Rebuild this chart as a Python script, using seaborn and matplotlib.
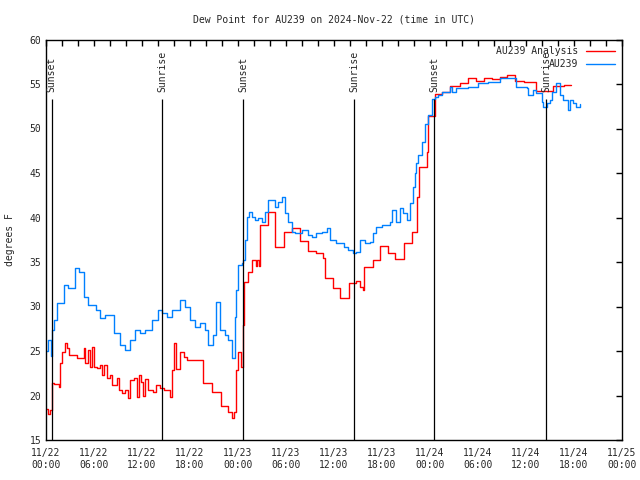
import numpy as np
import pandas as pd
import matplotlib
matplotlib.use("Agg")
import matplotlib.pyplot as plt
import matplotlib.dates as mdates
import seaborn as sns

# DATA (hours after 2024-11-22 00:00 UTC, dew point in F)
start = pd.Timestamp("2024-11-22 00:00")

ana_hours = [0.0, 0.25, 0.5, 0.75, 0.96, 1.6, 1.8, 2.0, 2.4, 2.6, 2.85, 3.9, 4.7, 4.9,
             5.3, 5.5, 5.75, 5.95, 6.4, 6.8, 7.0, 7.2, 7.6, 8.0, 8.25, 8.9, 9.1, 9.5,
             9.9, 10.3, 10.5, 10.95, 11.4, 11.6, 11.9, 12.1, 12.4, 12.8, 13.4, 13.8,
             14.25, 14.7, 15.1, 15.5, 15.7, 16.0, 16.3, 16.75, 17.2, 17.6, 19.6, 20.75,
             21.9, 22.8, 23.2, 23.5, 23.8, 24.0, 24.4, 24.65, 24.8, 25.3, 25.7, 26.25,
             26.4, 26.6, 26.8, 27.8, 28.6, 29.75, 30.7, 31.75, 32.8, 33.8, 34.6, 34.9,
             35.9, 36.75, 37.9, 38.75, 39.25, 39.6, 39.7, 40.9, 41.75, 42.8, 43.6,
             44.75, 45.8, 46.4, 46.6, 47.6, 47.8, 48.6, 49.5, 50.5, 51.7, 52.8, 53.75,
             54.7, 55.7, 56.75, 57.6, 58.6, 59.7, 61.3, 63.4, 64.7, 65.6]
ana_dewpt = [18.5, 17.9, 18.4, 21.4, 21.3, 20.9, 23.7, 24.9, 25.9, 25.3, 24.6, 24.2, 25.3, 23.7,
             25.1, 23.2, 25.4, 23.2, 23.1, 23.4, 22.3, 23.4, 22.0, 22.3, 21.2, 22.0, 20.6, 20.3,
             20.6, 19.7, 21.7, 22.0, 19.8, 22.3, 21.5, 20.0, 21.8, 20.6, 20.4, 21.2,
             20.8, 20.6, 20.6, 19.8, 22.9, 25.9, 23.0, 24.9, 24.3, 24.0, 21.4, 20.4,
             18.8, 18.1, 17.5, 18.1, 22.9, 24.9, 23.2, 27.9, 32.8, 33.9, 35.2, 34.6,
             35.2, 34.6, 39.2, 40.6, 36.7, 38.4, 38.8, 37.4, 36.2, 36.0, 35.4, 33.2,
             32.1, 31.0, 32.6, 32.9, 32.2, 31.9, 34.4, 35.2, 36.8, 36.0, 35.3,
             37.1, 38.4, 42.3, 45.7, 47.4, 51.4, 53.9, 54.1, 54.8, 55.1, 55.7, 55.3,
             55.7, 55.6, 55.8, 56.0, 55.3, 55.2, 54.2, 54.8, 54.9, 54.9]

obs_hours = [0.0, 0.3, 0.6, 0.75, 1.0, 1.4, 2.2, 2.8, 3.6, 4.1, 4.7, 5.3, 6.2, 6.8, 7.4,
             8.45, 9.3, 9.9, 10.55, 11.15, 11.8, 12.4, 13.2, 14.0, 14.45, 15.1, 15.7,
             16.75, 17.4, 18.0, 18.6, 19.25, 19.9, 20.3, 20.9, 21.3, 21.75, 22.4, 22.8,
             23.2, 23.6, 23.8, 24.0, 24.5, 24.65, 24.9, 25.1, 25.4, 25.7, 26.1, 26.5,
             26.95, 27.4, 27.8, 28.6, 29.0, 29.45, 29.9, 30.3, 30.7, 31.1, 31.95, 32.8,
             33.2, 33.8, 34.45, 35.1, 35.5, 36.3, 37.2, 37.8, 38.4, 38.8, 39.25, 39.9,
             40.5, 40.9, 41.3, 41.95, 43.0, 43.2, 43.8, 44.25, 44.65, 45.1, 45.5, 45.9,
             46.1, 46.3, 46.5, 46.95, 47.4, 47.8, 48.2, 48.6, 49.05, 49.45, 50.5, 50.7,
             51.3, 52.8, 54.0, 55.3, 56.75, 58.4, 58.75, 60.1, 60.3, 60.9, 61.3, 61.95,
             62.15, 62.6, 63.0, 63.2, 63.8, 64.25, 64.65, 65.3, 65.5, 65.9, 66.3, 66.75]
obs_dewpt = [25.0, 26.2, 24.4, 27.4, 28.5, 30.4, 32.4, 32.1, 34.3, 33.9, 31.1, 30.2, 29.6, 28.7, 29.0,
             27.0, 25.7, 25.1, 26.2, 27.4, 27.0, 27.4, 28.5, 29.6, 29.3, 28.8, 29.6,
             30.7, 29.9, 28.5, 27.7, 28.1, 27.4, 25.7, 26.8, 30.5, 27.4, 26.8, 26.2,
             24.2, 28.8, 31.9, 34.7, 34.9, 35.2, 37.5, 40.1, 40.6, 40.1, 39.7, 39.9,
             39.5, 40.6, 42.0, 41.2, 41.7, 42.3, 40.5, 39.5, 38.4, 38.3, 38.6, 38.0,
             37.8, 38.3, 38.4, 38.8, 37.5, 37.1, 36.7, 36.3, 36.0, 36.1, 37.5, 37.1,
             37.2, 38.3, 38.9, 39.2, 39.5, 40.8, 39.5, 41.1, 40.5, 39.7, 41.6, 43.4,
             45.0, 46.1, 47.0, 48.5, 50.5, 51.5, 53.3, 53.5, 53.8, 54.1, 54.7, 54.1,
             54.6, 54.7, 55.1, 55.2, 55.7, 55.7, 54.7, 54.6, 53.8, 54.3, 54.0, 53.0,
             52.4, 52.9, 53.2, 54.1, 55.1, 53.8, 53.2, 52.1, 53.2, 52.9, 52.4, 52.8]

sun_hours = [0.71, 14.54, 24.66, 38.54, 48.54, 62.5]
sun_labels = ["Sunset", "Sunrise", "Sunset", "Sunrise", "Sunset", "Sunrise"]

# BUILD TABLE
ana = pd.DataFrame({"time": start + pd.to_timedelta(ana_hours, unit="h"),
                    "dewpt": ana_dewpt, "series": "AU239 Analysis"})
obs = pd.DataFrame({"time": start + pd.to_timedelta(obs_hours, unit="h"),
                    "dewpt": obs_dewpt, "series": "AU239"})
df = pd.concat([ana, obs], ignore_index=True)

sns.set_style("white")
plt.rcParams['font.family'] = ['DejaVu Sans Mono']
plt.rcParams['font.size'] = 7

fig = plt.figure(figsize=(6.4, 4.8), dpi=100)
ax = fig.add_axes([46 / 640, 40 / 480, 576 / 640, 400.5 / 480])

sns.lineplot(data=df, x="time", y="dewpt", hue="series",
             palette={"AU239 Analysis": "#ff0000", "AU239": "#0080ff"},
             hue_order=["AU239 Analysis", "AU239"],
             estimator=None, drawstyle="steps-post", linewidth=1.0, ax=ax)

# sunrise / sunset markers
for h, lab in zip(sun_hours, sun_labels):
    t = start + pd.Timedelta(hours=h)
    ax.vlines(t, 15, 53.3, color="black", linewidth=0.9)
    ax.text(t, 54.1, lab, rotation=90, ha="center", va="bottom", fontsize=7)

ax.set_xlim(start, start + pd.Timedelta(hours=72))
ax.set_ylim(15, 60)
ax.set_yticks(np.arange(15, 61, 5))
ax.xaxis.set_major_locator(mdates.HourLocator(byhour=[0, 6, 12, 18]))
ax.xaxis.set_minor_locator(mdates.HourLocator(interval=2))
ax.xaxis.set_major_formatter(mdates.DateFormatter("%m/%d\n%H:%M"))
ax.tick_params(which="both", direction="in", top=True, right=True,
               length=4, width=1, color="black", labelsize=7)
ax.tick_params(axis="x", pad=6)

for s in ax.spines.values():
    s.set_color("black")
    s.set_linewidth(1)

ax.set_xlabel("")
ax.set_ylabel("degrees F", fontsize=7, labelpad=10)
ax.set_title("Dew Point for AU239 on 2024-Nov-22 (time in UTC)", fontsize=7, pad=12)

handles, labels = ax.get_legend_handles_labels()
ax.legend(handles, labels, loc="upper right", frameon=False, markerfirst=False,
          handlelength=3.0, fontsize=7, borderaxespad=0.3, labelspacing=0.3,
          handletextpad=0.8)

fig.savefig("out.png", dpi=100)
